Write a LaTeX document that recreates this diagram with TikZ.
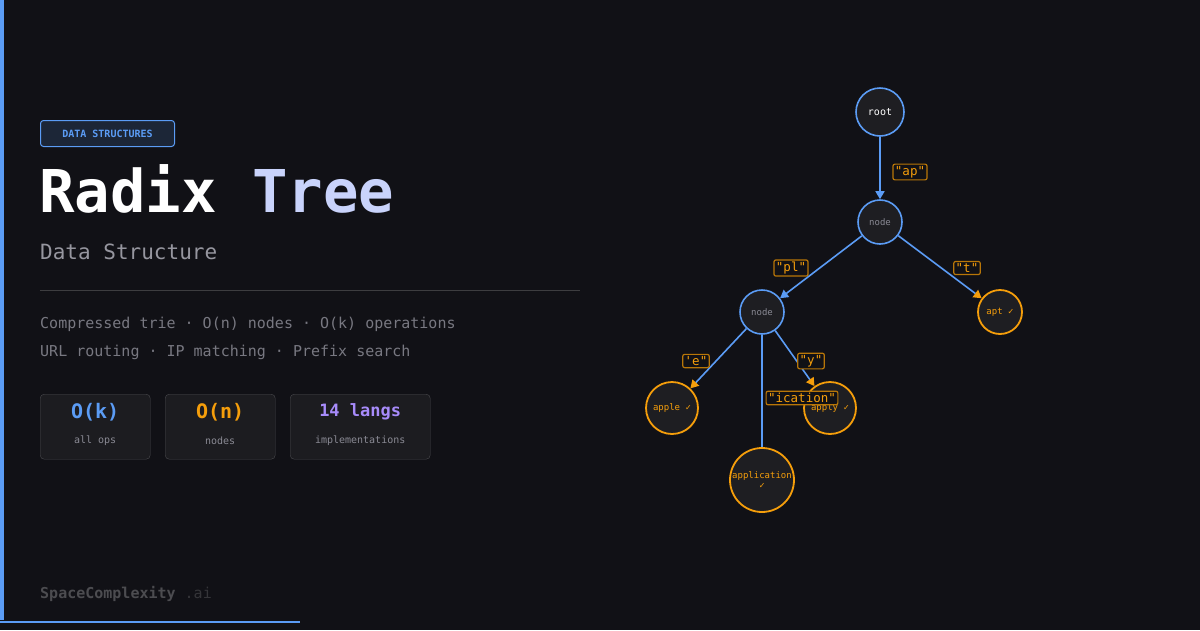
\documentclass[tikz,border=0pt]{standalone}
\usepackage{fontspec}
\setmainfont{DejaVu Sans Mono}[Ligatures=TeXOff]
\usetikzlibrary{arrows.meta}
\definecolor{bg}{HTML}{111116}
\definecolor{bl}{HTML}{5B9CF5}
\definecolor{og}{HTML}{F59E0B}
\definecolor{nf}{HTML}{1E1E22}
\definecolor{gy}{HTML}{8A8A94}
\definecolor{lav}{HTML}{C9D3FB}
\definecolor{pu}{HTML}{A78BFA}
\definecolor{box}{HTML}{1C1C20}
\tikzset{
 inner/.style={circle,draw=bl,line width=1.6pt,fill=nf,inner sep=0pt,font=\fontsize{9}{10}\selectfont,text=gy},
 leaf/.style={circle,draw=og,line width=1.8pt,fill=nf,inner sep=0pt,font=\fontsize{9}{10}\selectfont,text=og,align=center},
 lab/.style={draw=og!75!black,rounded corners=2pt,line width=1.2pt,fill=bg,text=og,inner sep=2pt,font=\fontsize{12.5}{13}\selectfont},
 be/.style={draw=bl,line width=1.6pt,-{Triangle[length=8pt,width=9pt]}},
 oe/.style={draw=bl,line width=1.6pt,-{Triangle[length=8pt,width=9pt,fill=og,color=og]}},
 stat/.style={fill=box,draw=box!80!white,rounded corners=4pt,minimum height=65pt,anchor=north west}
}
\begin{document}
\begin{tikzpicture}[x=1pt,y=-1pt]
\fill[bg] (0,0) rectangle (1200,630);
\useasboundingbox (0,0) rectangle (1200,630);
\fill[bl] (0,0) rectangle (4,620);
\draw[bl,line width=1.5pt] (0,622) -- (300,622);
\node[draw=bl,fill=bl!15!bg,rounded corners=3pt,line width=1pt,minimum width=134pt,minimum height=26pt,anchor=north west,text=bl,font=\bfseries\fontsize{10}{12}\selectfont] (tag) at (40,120) {DATA STRUCTURES};
\node[anchor=base west,inner sep=0pt,font=\bfseries\fontsize{59}{64}\selectfont] (title) at (39,212) {\textcolor{white}{Radix} \textcolor{lav}{Tree}};
\node[anchor=base west,inner sep=0pt,text=gy!90!white,font=\fontsize{21}{24}\selectfont] (sub) at (40,259) {Data Structure};
\draw[gray!40!bg,line width=1pt] (40,290) -- (580,290);
\node[anchor=base west,inner sep=0pt,text=gy!85!bg,font=\fontsize{15}{17}\selectfont] (l1) at (40,328) {Compressed trie · O(n) nodes · O(k) operations};
\node[anchor=base west,inner sep=0pt,text=gy!85!bg,font=\fontsize{15}{17}\selectfont] (l2) at (40,356) {URL routing · IP matching · Prefix search};
\node[stat,minimum width=110pt] (s1) at (40,394) {};
\node[stat,minimum width=110pt] (s2) at (165,394) {};
\node[stat,minimum width=140pt] (s3) at (290,394) {};
\foreach \n/\v/\l/\c/\s in {s1/O(k)/all ops/bl/20,s2/O(n)/nodes/og/20,s3/14 langs/implementations/pu/17}{
 \node[text=\c,font=\bfseries\fontsize{\s}{22}\selectfont] (\n v) at ([yshift=-18pt]\n.north) {\v};
 \node[text=gy,font=\fontsize{10}{11}\selectfont] (\n l) at ([yshift=-47pt]\n.north) {\l};
}
\node[anchor=base west,inner sep=0pt,font=\bfseries\fontsize{15}{17}\selectfont,text=white!25!bg] (brand) at (40,598) {SpaceComplexity\textcolor{white!15!bg}{\mdseries\ .ai}};
% tree
\node[inner,minimum size=48pt,text=white,font=\fontsize{10}{11}\selectfont] (root) at (880,112) {root};
\node[inner,minimum size=44pt] (n1) at (880,222) {node};
\node[inner,minimum size=44pt] (n2) at (762,312) {node};
\node[leaf,minimum size=44pt] (apt) at (1000,312) {apt ✓};
\node[leaf,minimum size=52pt] (apple) at (672,408) {apple ✓};
\node[leaf,minimum size=52pt] (apply) at (830,408) {apply ✓};
\node[leaf,minimum size=64pt] (appl) at (762,480) {application\\✓};
\draw[be] (root) -- (n1);
\draw[be] (n1) -- (n2);
\draw[oe] (n1) -- (apt);
\draw[oe] (n2) -- (apple);
\draw[oe] (n2) -- (apply);
\draw[draw=bl,line width=1.6pt] (n2) -- (appl);
\node[lab] (la) at (910,172) {"ap"};
\node[lab] (lb) at (791,268) {"pl"};
\node[lab] (lc) at (967,268) {"t"};
\node[lab] (ld) at (696,361) {'e"};
\node[lab] (le) at (811,361) {"y"};
\node[lab] (lf) at (802,398) {"ication"};
\end{tikzpicture}
\end{document}
